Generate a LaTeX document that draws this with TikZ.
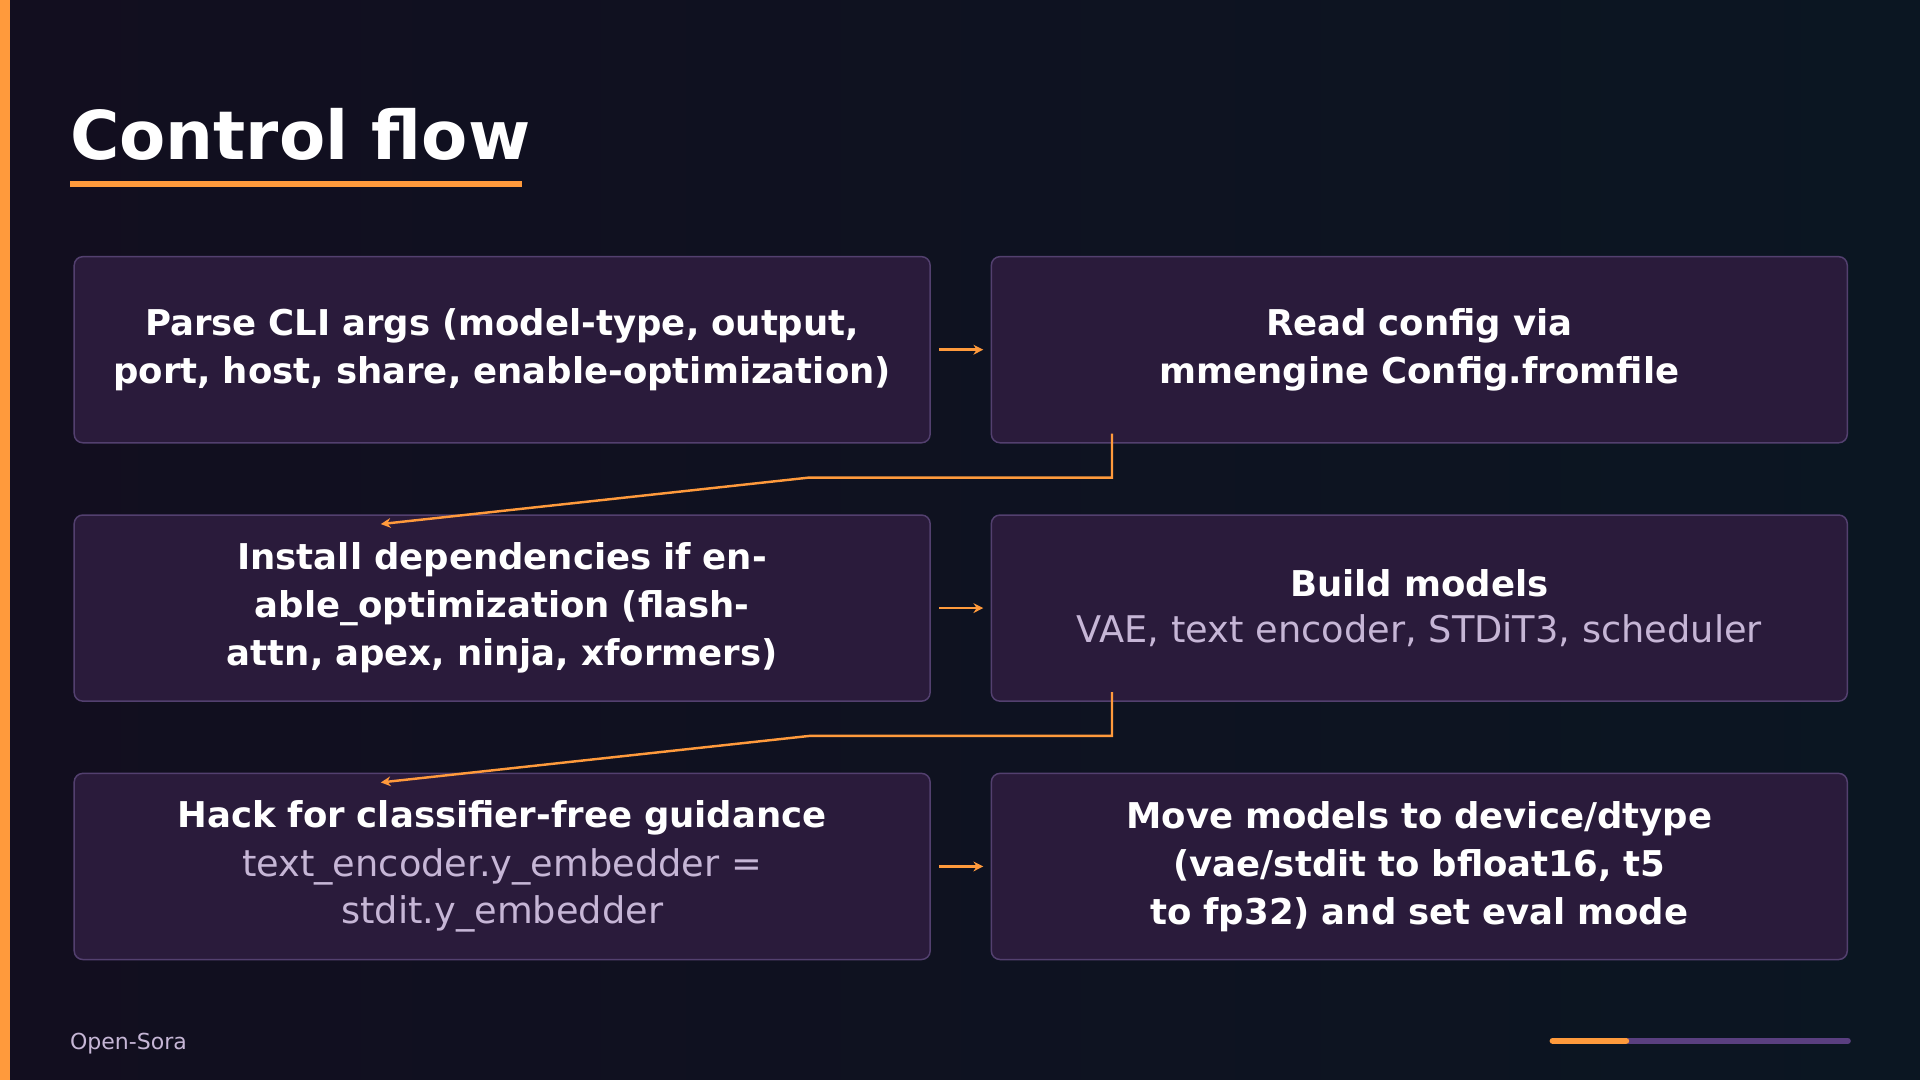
\documentclass[tikz,border=0pt]{standalone}
\usepackage{fontspec}
\usetikzlibrary{arrows.meta}
\setmainfont{DejaVu Sans}
\definecolor{bgA}{HTML}{120E1F}
\definecolor{bgB}{HTML}{0B1622}
\definecolor{boxf}{HTML}{2A1B3B}
\definecolor{boxd}{HTML}{53406F}
\definecolor{orng}{HTML}{FF9A3C}
\definecolor{sub}{HTML}{C6B6D6}
\definecolor{prg}{HTML}{5A3F80}
\newcommand\subtx{\fontsize{30}{41}\selectfont\mdseries\color{sub}}
\begin{document}
\begin{tikzpicture}[x=1pt,y=-1pt,
  box/.style={draw=boxd,line width=1.2pt,fill=boxf,rounded corners=7pt,minimum width=699pt,minimum height=152pt,anchor=north west,inner sep=0pt,text width=680pt,align=center,text=white,font=\fontsize{29}{39}\selectfont\bfseries},
  arr/.style={draw=orng,line width=2pt,-{Stealth[length=8pt,width=8pt]}}]
\useasboundingbox (0,0) rectangle (1568,882);
\shade[left color=bgA,right color=bgB] (0,0) rectangle (1568,882);
\fill[orng] (0,0) rectangle (8,882);
\node[anchor=west,text=white,font=\fontsize{55}{60}\selectfont\bfseries,inner sep=0pt] (title) at (57,110) {Control flow};
\fill[orng] (57,148) rectangle (426,153);
\node[box] (a) at (60,209) {Parse CLI args (model-type, output, port, host, share, enable-optimization)};
\node[box] (b) at (809,209) {Read config via mmengine Config.fromfile};
\node[box] (c) at (60,420) {Install dependencies if enable\_optimization (flash-attn, apex, ninja, xformers)};
\node[box] (d) at (809,420) {Build models\\[-2pt]{\subtx VAE, text encoder, STDiT3, scheduler}};
\node[box] (e) at (60,631) {Hack for classifier-free guidance\\[-1pt]{\subtx text\_encoder.y\_embedder =\\ stdit.y\_embedder}};
\node[box] (f) at (809,631) {Move models to device/dtype (vae/stdit to bfloat16, t5 to fp32) and set eval mode};
\draw[arr] ([xshift=7pt]a.east) -- ([xshift=-6pt]b.west);
\draw[arr] ([xshift=7pt]c.east) -- ([xshift=-6pt]d.west);
\draw[arr] ([xshift=7pt]e.east) -- ([xshift=-6pt]f.west);
\draw[arr] ([xshift=-251pt,yshift=8pt]b.south) |- (661,390) -- ([xshift=251pt,yshift=-8pt]c.north west);
\draw[arr] ([xshift=-251pt,yshift=8pt]d.south) |- (661,601) -- ([xshift=251pt,yshift=-8pt]e.north west);
\node[anchor=west,text=sub,font=\fontsize{18}{20}\selectfont,inner sep=0pt] (foot) at (57,852) {Open-Sora};
\draw[line width=5pt,line cap=round,prg] (1330,850) -- (1509,850);
\draw[line width=5pt,line cap=round,orng] (1268,850) -- (1328,850);
\end{tikzpicture}
\end{document}
